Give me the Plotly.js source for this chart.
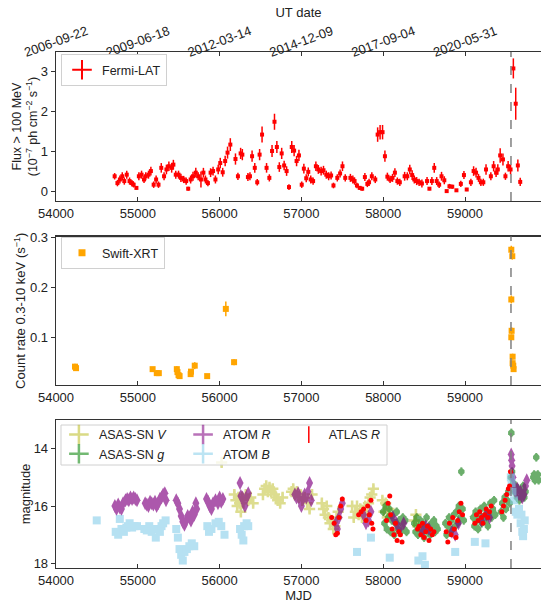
<!DOCTYPE html>
<html>
<head>
<meta charset="utf-8">
<script src="https://cdn.plot.ly/plotly-3.0.1.min.js"></script>
<style>html,body{margin:0;padding:0;background:#fff;}#chart{width:541px;height:604px;}</style>
</head>
<body>
<div id="chart"></div>
<script>
// ---------------- DATA ----------------
const FLARE_MJD = 59562;
const utTickMJD = [54000, 55000, 56000, 57000, 58000, 59000];
const utTickText = ['2006-09-22', '2009-06-18', '2012-03-14', '2014-12-09', '2017-09-04', '2020-05-31'];

// Fermi-LAT monthly flux (1e-7 ph cm^-2 s^-1)
const fermiMJD = [54717,54751,54781,54810,54835,54865,54899,54928,54949,54983,
55013,55046,55076,55097,55131,55160,55194,55224,55253,55287,
55321,55350,55380,55414,55435,55464,55498,55527,55561,55591,
55616,55646,55675,55709,55738,55772,55802,55827,55857,55890,
55920,55949,55983,56008,56038,56068,56097,56131,56194,56224,
56257,56278,56346,56371,56397,56430,56460,56489,56519,56574,
56608,56641,56671,56700,56730,56759,56789,56819,56848,56882,
56911,56941,56970,57004,57030,57059,57084,57114,57143,57177,
57207,57241,57270,57304,57333,57363,57392,57439,57473,57502,
57536,57599,57629,57650,57679,57713,57743,57776,57806,57827,
57861,57903,57932,57962,57992,58021,58051,58084,58114,58143,
58173,58203,58262,58295,58325,58354,58380,58409,58439,58473,
58536,58565,58595,58624,58654,58684,58713,58747,58776,58810,
58844,58895,58949,58987,59021,59072,59105,59135,59165,59194,
59224,59257,59316,59350,59380,59401,59430,59464,59494,59527,
59557,59591,59620,59646,59675];
const fermiFlux = [0.39,0.22,0.31,0.39,0.27,0.43,0.27,0.22,0.18,0.10,
0.39,0.43,0.31,0.39,0.43,0.52,0.18,0.31,0.18,0.60,
0.39,0.56,0.64,0.60,0.68,0.43,0.43,0.35,0.31,0.27,
0.08,0.31,0.39,0.48,0.39,0.31,0.48,0.31,0.22,0.48,
0.52,0.31,0.56,0.72,0.49,0.77,0.98,1.18,0.82,0.39,
0.96,0.93,0.37,0.39,0.89,0.60,0.24,0.93,1.43,0.60,
0.35,1.02,1.75,1.12,0.62,0.96,0.66,0.52,0.12,1.12,
1.03,0.77,0.91,0.18,0.58,0.34,0.50,0.31,0.27,0.64,
0.56,0.52,0.54,0.43,0.39,0.41,0.16,0.35,0.46,0.64,
0.35,0.35,0.31,0.27,0.16,0.10,0.08,0.37,0.20,0.24,
0.39,0.31,1.43,1.49,1.49,0.89,0.38,0.31,0.35,0.48,
0.27,0.24,0.39,0.39,0.56,0.42,0.31,0.27,0.24,0.21,
0.27,0.08,0.27,0.60,0.27,0.18,0.39,0.29,0.02,0.14,
0.13,0.04,0.20,0.42,0.06,0.24,0.52,0.48,0.35,0.24,
0.24,0.56,0.39,0.64,0.48,0.56,0.91,0.81,0.39,0.64,
0.56,3.08,2.20,0.66,0.25];
const fermiErr = [0.08,0.08,0.1,0.1,0.09,0.1,0.09,0.08,0.07,0.04,
0.1,0.1,0.09,0.1,0.1,0.11,0.08,0.1,0.08,0.12,
0.1,0.12,0.12,0.12,0.12,0.1,0.1,0.1,0.09,0.09,
0.05,0.1,0.11,0.12,0.1,0.2,0.12,0.1,0.08,0.11,
0.11,0.1,0.12,0.13,0.11,0.13,0.15,0.16,0.14,0.09,
0.14,0.14,0.1,0.1,0.14,0.12,0.08,0.14,0.2,0.12,
0.09,0.15,0.2,0.15,0.12,0.14,0.12,0.12,0.07,0.15,
0.14,0.13,0.14,0.08,0.12,0.1,0.11,0.1,0.09,0.12,
0.11,0.11,0.11,0.1,0.1,0.1,0.07,0.09,0.1,0.12,
0.09,0.1,0.1,0.09,0.07,0.05,0.05,0.1,0.08,0.09,
0.1,0.09,0.18,0.18,0.18,0.14,0.1,0.09,0.1,0.11,
0.09,0.09,0.11,0.1,0.12,0.12,0.1,0.1,0.09,0.1,
0.1,0.04,0.1,0.12,0.1,0.08,0.11,0.1,0.03,0.06,
0.05,0.03,0.08,0.1,0.04,0.09,0.12,0.12,0.1,0.09,
0.09,0.13,0.1,0.13,0.11,0.13,0.18,0.15,0.09,0.13,
0.12,0.25,0.4,0.15,0.1];

// Swift-XRT count rate 0.3-10 keV (s^-1)
const xrtMJD = [54232,54245,55181,55232,55257,55477,55485,55498,55511,55646,55650,55696,55848,56076,56177,
59566,59578,59566,59570,59566,59582,59582,59590,59594];
const xrtRate = [0.041,0.038,0.036,0.028,0.028,0.036,0.030,0.024,0.022,0.026,0.031,0.043,0.022,0.157,0.050,
0.276,0.263,0.176,0.113,0.100,0.061,0.048,0.043,0.036];
const xrtErr = [0.006,0.005,0.004,0.004,0.004,0.006,0.005,0.004,0.004,0.005,0.005,0.007,0.003,0.015,0.006,
0.008,0.007,0.008,0.007,0.005,0.006,0.005,0.005,0.004];

// ASAS-SN V magnitude
const asasVMJD = [56025,
56180,56200,56215,56230,56245,56260,56275,56290,56320,56350,56380,56410,
56530,56550,56570,56590,56610,56630,56650,56670,56690,56710,56740,56770,
56880,56900,56920,56945,56970,56990,57010,57040,57070,57100,57130,
57250,57270,57290,57310,57330,57350,57370,57390,57410,57430,57450,
57620,57640,57660,57680,57700,57720,57740,57760,57780,57800,57820,57840,57860,57880,
57990,58010,58030,58050,58070,
58380,58400,58420];
const asasVMag = [14.48,
15.6,15.8,16.0,15.7,15.9,16.2,15.7,15.9,15.6,15.8,15.7,15.9,
15.6,15.4,15.3,15.5,15.35,15.5,15.4,15.6,15.7,15.8,15.9,15.7,
15.5,15.4,15.6,15.5,15.7,15.6,15.8,15.7,15.9,16.1,15.6,
15.9,16.1,16.3,16.0,16.4,16.6,16.5,16.8,16.7,16.4,16.2,
16.0,16.4,16.2,16.0,16.3,16.1,16.4,16.2,16.0,16.3,15.9,15.7,15.6,15.4,
15.8,16.2,15.9,16.4,16.1,
16.5,16.3,16.7];

// ASAS-SN g magnitude
const asasGMJD = [58000,58015,58030,58045,58060,58075,58090,58105,58120,58135,58150,58165,58180,58195,58210,58225,58240,58255,58270,58285,
58380,58395,58410,58425,58440,58455,58470,58485,58500,58515,58530,58545,58560,58575,58590,58605,58620,58635,58650,58665,
58760,58775,58790,58805,58820,58835,58850,58865,58880,58895,58910,58925,58940,58955,58970,58985,
59100,59115,59130,59145,59160,59175,59190,59205,59220,59235,59250,59265,59280,59295,59310,59325,59340,59355,59370,
59440,59455,59470,59485,59500,59515,59530,59545,59560,59566,59575,59590,59605,59620,59635,59650,59665,59680,59695,59710,59725,59740,
59835,59845,59855,59865,59871,59880,59890,59900];
const asasGMag = [16.2,16.6,16.0,16.8,16.4,16.1,16.9,16.5,16.3,17.0,16.6,16.2,16.8,16.5,16.9,16.6,16.4,16.8,16.5,16.9,
16.6,16.9,16.4,17.0,16.7,16.5,16.9,16.6,17.1,16.8,16.4,16.9,16.7,17.0,16.6,16.8,16.5,16.9,16.7,16.8,
16.6,17.0,16.7,16.4,16.9,16.5,16.8,16.3,16.7,16.2,16.6,16.0,16.4,14.8,16.1,16.5,
16.4,16.7,16.2,16.5,16.8,16.3,16.1,16.6,16.4,16.0,16.5,16.2,16.7,16.3,15.9,16.4,16.1,15.8,16.3,
16.2,15.9,16.4,15.7,16.1,15.8,15.5,15.9,15.0,13.45,14.8,15.2,15.5,15.3,15.7,15.4,15.8,15.5,15.6,15.3,15.7,15.5,
15.0,14.9,15.1,14.95,14.3,15.05,14.9,15.1];

// ATOM R magnitude
const atomRMJD = [54720,54740,54760,54780,54800,54820,54850,54870,54890,54910,54930,54950,54970,54990,
55090,55110,55130,55150,55170,55190,55210,55230,55250,55270,55290,55310,55330,55345,
55470,55490,55510,55530,55550,55570,55590,55610,55630,55650,55670,55690,55710,55720,
55840,55860,55880,55900,55920,55950,55980,56000,56020,56040,
56250,56260,56280,56300,56310,56320,56340,56350,
56920,56940,56960,56980,57000,57020,57040,57060,57080,57100,57120,
57420,57440,57460,57480,57500,
57760,57790,57820,57850,
58120,58160,58200,58250,
58480,58520,58560,
58840,58880,58920,
59200,59260,59300,
59565,59570,59575,59585,59600,59620,59640,59660,59680,59700,59720,59740,59755];
const atomRMag = [16.0,16.1,15.95,16.05,16.1,15.9,15.8,15.75,15.8,15.7,15.75,15.7,15.75,15.8,
15.9,15.95,16.0,15.85,15.9,15.95,15.85,16.0,15.9,15.75,15.7,15.6,15.55,15.8,
15.8,15.9,16.1,16.35,16.55,16.65,16.5,16.35,16.4,16.5,16.2,16.3,15.9,16.1,
15.75,15.85,16.0,16.1,15.9,15.8,15.9,15.7,15.85,15.75,
15.2,15.65,15.7,15.9,16.0,15.75,15.65,15.55,
15.6,15.7,15.55,15.8,16.0,15.75,15.6,15.7,15.5,15.2,15.8,
16.6,16.8,16.4,16.1,15.9,
16.3,16.6,16.5,16.2,
16.4,16.6,16.8,16.6,
16.9,16.7,16.8,
16.9,17.0,16.6,
16.5,16.3,16.4,
14.2,14.4,14.6,15.0,15.3,15.5,15.4,15.6,15.5,15.7,15.6,15.3,15.1];

// ATOM B magnitude
const atomBMJD = [54498,
54730,54760,54780,54800,54830,54860,54880,54900,54930,54960,54990,
55080,55110,55140,55170,55200,55220,55250,55270,55290,55310,55340,
55470,55490,55510,55530,55550,55570,55600,55630,55660,55690,
55850,55870,55900,55950,55990,56020,56060,
56250,56270,56290,56300,56330,56350,
57680,57850,58080,58430,58480,58510,58880,59120,59250,
59560,59570,59580,59600,59620,59640,59660,59680,59690,59700,59710,59720,59730];
const atomBMag = [16.5,
16.9,17.0,16.45,16.8,16.9,16.75,16.7,16.6,16.75,16.7,16.7,
16.8,16.85,16.7,16.9,16.8,17.1,16.8,16.9,16.7,16.6,16.5,
16.8,17.1,17.5,17.7,17.9,17.6,17.5,17.4,17.3,17.4,
16.7,16.9,16.8,16.6,16.55,16.7,17.0,
16.8,17.0,17.2,16.7,16.6,16.7,
17.6,17.1,17.8,17.9,17.75,18.05,17.6,17.25,17.3,
15.0,15.2,15.5,15.8,16.2,16.3,16.1,16.6,16.3,16.9,17.05,16.8,16.5];

// ATLAS R magnitude
const atlasMJD = [57370,57400,57420,57440,57460,57480,57500,
57700,57730,57760,57790,57810,57830,57850,57860,57875,
58040,58060,58080,58090,58110,58130,58150,58170,58190,58210,58230,
58420,58440,58460,58480,58500,58520,58540,58560,58580,58600,58620,
58770,58790,58810,58830,58850,58870,58890,58910,58930,58950,58970,
59120,59140,59160,59180,59200,59220,59240,59260,59280,59300,59320,
59450,59470,59490,59510,59530,59545,59555];
const atlasMag = [16.4,16.6,17.0,16.95,16.4,16.0,15.75,
16.3,16.2,16.1,16.5,16.0,16.3,15.8,16.6,16.8,
16.5,15.9,15.65,16.3,16.8,17.0,16.6,17.2,16.9,17.0,17.25,
16.8,16.7,17.0,16.6,17.1,16.9,16.7,17.2,16.8,17.0,16.9,
16.9,17.25,16.6,17.0,16.4,16.8,17.1,16.5,16.2,15.9,16.3,
16.6,16.3,16.5,16.2,16.4,16.6,16.3,16.1,16.4,16.2,16.0,
16.2,16.0,15.8,15.6,15.4,15.3,14.8];

// ---------------- LAYOUT HELPERS ----------------
const FONT = 'Liberation Sans, Arial, Helvetica, sans-serif';
const TXT = '#222';
const X_RANGE = [54000, 59929];
const AX = '#333';

function xAxis(anchor, showTitle) {
  const a = {
    anchor: anchor, range: X_RANGE, dtick: 1000, tick0: 54000, tickformat: 'd',
    ticks: 'inside', ticklen: 4, tickwidth: 1, tickcolor: AX,
    showline: true, linecolor: AX, linewidth: 1.3, mirror: true,
    showgrid: false, zeroline: false,
    tickfont: {size: 13, color: TXT, family: FONT}
  };
  if (showTitle) a.title = {text: 'MJD', font: {size: 13, color: TXT, family: FONT}, standoff: 2};
  return a;
}
function yAxis(domain, range, extra) {
  return Object.assign({
    domain: domain, range: range,
    ticks: 'outside', ticklen: 4, tickwidth: 1, tickcolor: AX,
    showline: true, linecolor: AX, linewidth: 1.3, mirror: false,
    showgrid: false, zeroline: false, automargin: true,
    tickfont: {size: 13, color: TXT, family: FONT}
  }, extra);
}

const errStyle = (c, arr, th) => ({type: 'data', array: arr, color: c, thickness: th, width: 0});

const traces = [
  // Fermi
  {x: fermiMJD, y: fermiFlux, xaxis: 'x', yaxis: 'y', type: 'scatter', mode: 'markers',
   marker: {symbol: 'square', size: 4, color: '#ff0000'},
   error_y: errStyle('#ff0000', fermiErr, 1.5),
   error_x: {type: 'constant', value: 15, color: '#ff0000', thickness: 1.5, width: 0},
   showlegend: false, hoverinfo: 'x+y'},
  {x: [null], y: [null], xaxis: 'x', yaxis: 'y', type: 'scatter', mode: 'markers', name: 'Fermi-LAT',
   marker: {symbol: 'cross-thin-open', size: 14, color: '#ff0000', line: {width: 2, color: '#ff0000'}},
   legend: 'legend'},
  // empty trace to hold the top date axis
  {x: [], y: [], xaxis: 'x4', yaxis: 'y', type: 'scatter', mode: 'markers', showlegend: false},
  // Swift
  {x: xrtMJD, y: xrtRate, xaxis: 'x2', yaxis: 'y2', type: 'scatter', mode: 'markers',
   marker: {symbol: 'square', size: 6, color: '#ffa500'},
   error_y: errStyle('#ffa500', xrtErr, 1.5), showlegend: false},
  {x: [null], y: [null], xaxis: 'x2', yaxis: 'y2', type: 'scatter', mode: 'markers', name: 'Swift-XRT',
   marker: {symbol: 'square', size: 7, color: '#ffa500'}, legend: 'legend2'},
  // Optical
  {x: asasVMJD, y: asasVMag, xaxis: 'x3', yaxis: 'y3', type: 'scatter', mode: 'markers', opacity: 0.5,
   marker: {symbol: 'cross-thin-open', size: 8, color: '#bcbd22', line: {width: 2.5, color: '#bcbd22'}},
   error_y: {type: 'constant', value: 0.15, color: '#bcbd22', thickness: 2, width: 0}, showlegend: false},
  {x: asasGMJD, y: asasGMag, xaxis: 'x3', yaxis: 'y3', type: 'scatter', mode: 'markers', opacity: 0.6,
   marker: {symbol: 'octagon', size: 7, color: '#0a7a0a'},
   error_y: {type: 'constant', value: 0.15, color: '#0a7a0a', thickness: 2, width: 0},
   error_x: {type: 'constant', value: 6, color: '#0a7a0a', thickness: 2, width: 0}, showlegend: false},
  {x: atomRMJD, y: atomRMag, xaxis: 'x3', yaxis: 'y3', type: 'scatter', mode: 'markers', opacity: 0.65,
   marker: {symbol: 'diamond-tall', size: 10, color: '#800080'},
   error_y: {type: 'constant', value: 0.08, color: '#800080', thickness: 2, width: 0}, showlegend: false},
  {x: atomBMJD, y: atomBMag, xaxis: 'x3', yaxis: 'y3', type: 'scatter', mode: 'markers', opacity: 0.6,
   marker: {symbol: 'square', size: 8, color: '#87ceeb'},
   error_y: {type: 'constant', value: 0.1, color: '#87ceeb', thickness: 2, width: 0}, showlegend: false},
  {x: atlasMJD, y: atlasMag, xaxis: 'x3', yaxis: 'y3', type: 'scatter', mode: 'markers',
   marker: {symbol: 'circle', size: 5, color: '#ff0000'},
   error_y: {type: 'constant', value: 0.05, color: '#ff0000', thickness: 1.2, width: 0}, showlegend: false},
  // optical legend entries
  {x: [null], y: [null], xaxis: 'x3', yaxis: 'y3', type: 'scatter', mode: 'markers', name: 'ASAS-SN <i>V</i>', opacity: 0.55,
   marker: {symbol: 'cross-thin-open', size: 14, color: '#bcbd22', line: {width: 2.5, color: '#bcbd22'}}, legend: 'legend3'},
  {x: [null], y: [null], xaxis: 'x3', yaxis: 'y3', type: 'scatter', mode: 'markers', name: 'ASAS-SN <i>g</i>', opacity: 0.55,
   marker: {symbol: 'cross-thin-open', size: 14, color: '#008000', line: {width: 2.5, color: '#008000'}}, legend: 'legend3'},
  {x: [null], y: [null], xaxis: 'x3', yaxis: 'y3', type: 'scatter', mode: 'markers', name: 'ATOM <i>R</i>', opacity: 0.55,
   marker: {symbol: 'cross-thin-open', size: 14, color: '#800080', line: {width: 2.5, color: '#800080'}}, legend: 'legend4'},
  {x: [null], y: [null], xaxis: 'x3', yaxis: 'y3', type: 'scatter', mode: 'markers', name: 'ATOM <i>B</i>', opacity: 0.55,
   marker: {symbol: 'cross-thin-open', size: 14, color: '#87ceeb', line: {width: 2.5, color: '#87ceeb'}}, legend: 'legend4'},
  {x: [null], y: [null], xaxis: 'x3', yaxis: 'y3', type: 'scatter', mode: 'markers', name: 'ATLAS <i>R</i>',
   marker: {symbol: 'line-ns-open', size: 12, color: '#ff0000', line: {width: 1.5, color: '#ff0000'}}, legend: 'legend5'}
];

const legFont = {size: 12.5, color: TXT, family: FONT};
const legBase = {xanchor: 'left', yanchor: 'top', font: legFont, tracegroupgap: 0, itemwidth: 30};

const flareLine = (xr, yr) => ({type: 'line', xref: xr, yref: yr + ' domain', x0: FLARE_MJD, x1: FLARE_MJD, y0: 0, y1: 1,
  line: {color: '#808080', width: 1.5, dash: 'dash'}});

const layout = {
  width: 541, height: 604,
  margin: {l: 56, r: 0, t: 52, b: 36},
  paper_bgcolor: '#fff', plot_bgcolor: '#fff',
  font: {family: FONT, color: TXT, size: 12.5},
  showlegend: true,
  xaxis: xAxis('y', false),
  xaxis2: xAxis('y2', false),
  xaxis3: xAxis('y3', true),
  xaxis4: {overlaying: 'x', side: 'top', anchor: 'y', range: X_RANGE,
    tickmode: 'array', tickvals: utTickMJD, ticktext: utTickText, tickangle: -20,
    ticklabelshift: -32, ticklabelstandoff: -12,
    ticks: 'inside', ticklen: 4, tickcolor: AX, showline: true, linecolor: AX, linewidth: 1.3,
    showgrid: false, zeroline: false,
    tickfont: {size: 13, color: TXT, family: FONT},
    title: {text: 'UT date', font: {size: 13, color: TXT, family: FONT}, standoff: 2}},
  yaxis: yAxis([0.711, 1], [-0.23, 3.49], {dtick: 1, tick0: 0,
    title: {text: 'Flux > 100 MeV<br>(10<sup>−7</sup> ph cm<sup>−2</sup> s<sup>−1</sup>)', font: {size: 12.5, color: TXT, family: FONT}, standoff: 0}}),
  yaxis2: yAxis([0.3547, 0.6424], [0.0042, 0.3024], {tickvals: [0.1, 0.2, 0.3], tickformat: '.1f',
    title: {text: 'Count rate 0.3-10 keV (s<sup>−1</sup>)', font: {size: 13, color: TXT, family: FONT}, standoff: 1}}),
  yaxis3: yAxis([0, 0.2868], [18.16, 13.0], {tickvals: [14, 16, 18],
    title: {text: 'magnitude', font: {size: 13, color: TXT, family: FONT}, standoff: 0}}),
  legend: Object.assign({}, legBase, {x: 0.0103, y: 0.996, bgcolor: '#fff', bordercolor: '#d0d0d0', borderwidth: 1}),
  legend2: Object.assign({}, legBase, {x: 0.0103, y: 0.641, bgcolor: '#fff', bordercolor: '#d0d0d0', borderwidth: 1}),
  legend3: Object.assign({}, legBase, {x: 0.006, y: 0.287, bgcolor: 'rgba(0,0,0,0)', borderwidth: 0}),
  legend4: Object.assign({}, legBase, {x: 0.262, y: 0.287, bgcolor: 'rgba(0,0,0,0)', borderwidth: 0}),
  legend5: Object.assign({}, legBase, {x: 0.480, y: 0.287, bgcolor: 'rgba(0,0,0,0)', borderwidth: 0}),
  shapes: [
    flareLine('x', 'y'), flareLine('x2', 'y2'), flareLine('x3', 'y3'),
    {type: 'rect', xref: 'paper', yref: 'paper', x0: 0.0103, x1: 0.6825, y0: 0.1996, y1: 0.2771,
     line: {color: '#d0d0d0', width: 1}, fillcolor: 'rgba(255,255,255,0.8)', layer: 'above'}
  ]
};

Plotly.newPlot('chart', traces, layout, {staticPlot: true, displayModeBar: false});
</script>
</body>
</html>
